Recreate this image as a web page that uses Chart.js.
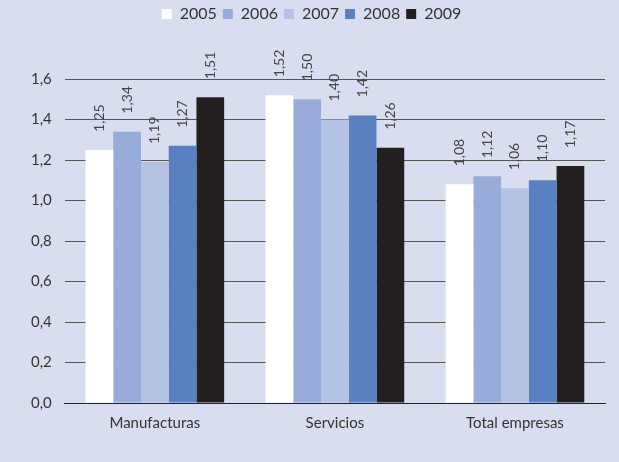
<!DOCTYPE html>
<html lang="es">
<head>
    <meta charset="UTF-8">
    <title>Indicador por sector</title>
    <script src="https://cdn.jsdelivr.net/npm/chart.js"></script>
    <style>
        html, body { margin: 0; padding: 0; background: #d9ddf0; }
        #wrap { width: 619px; height: 462px; }
    </style>
</head>
<body>
    <div id="wrap"><canvas id="barChart" width="619" height="462"></canvas></div>
    <script>
        const categories = ['Manufacturas', 'Servicios', 'Total empresas'];
        const years = ['2005', '2006', '2007', '2008', '2009'];
        const v2005 = [1.25, 1.52, 1.08];
        const v2006 = [1.34, 1.50, 1.12];
        const v2007 = [1.19, 1.40, 1.06];
        const v2008 = [1.27, 1.42, 1.10];
        const v2009 = [1.51, 1.26, 1.17];
        const yTicks = [0, 0.2, 0.4, 0.6, 0.8, 1.0, 1.2, 1.4, 1.6];

        const colors = ['#ffffff', '#98acd9', '#b4c3e4', '#5b80c2', '#231f20'];
        const series = [v2005, v2006, v2007, v2008, v2009];

        const fmt = v => v.toFixed(2).replace('.', ',');

        // value labels written vertically above each bar
        const barLabels = {
            id: 'barLabels',
            afterDatasetsDraw(chart) {
                const ctx = chart.ctx;
                ctx.save();
                ctx.font = '14px Lato';
                ctx.fillStyle = '#444';
                ctx.textAlign = 'left';
                ctx.textBaseline = 'middle';
                chart.data.datasets.forEach((ds, i) => {
                    chart.getDatasetMeta(i).data.forEach((bar, j) => {
                        ctx.save();
                        ctx.translate(bar.x, bar.y - 18);
                        ctx.rotate(-Math.PI / 2);
                        ctx.fillText(fmt(ds.data[j]), 0, 0);
                        ctx.restore();
                    });
                });
                ctx.restore();
            }
        };

        const ctx = document.getElementById('barChart').getContext('2d');
        const chart = new Chart(ctx, {
            type: 'bar',
            data: {
                labels: categories,
                datasets: years.map((y, i) => ({
                    label: y,
                    data: series[i],
                    backgroundColor: colors[i],
                    borderWidth: 0,
                    barPercentage: 1.0,
                    categoryPercentage: 0.77
                }))
            },
            options: {
                responsive: false,
                animation: false,
                layout: { padding: { top: 0, right: 14, bottom: 27, left: 18 } },
                plugins: {
                    legend: {
                        position: 'top',
                        labels: {
                            boxWidth: 10,
                            boxHeight: 10,
                            padding: 6,
                            color: '#333',
                            font: { family: 'Lato', size: 16 }
                        }
                    },
                    tooltip: { enabled: false }
                },
                scales: {
                    x: {
                        grid: { display: false },
                        border: { color: '#222', width: 1 },
                        ticks: { color: '#333', font: { family: 'Lato', size: 15 } }
                    },
                    y: {
                        min: 0,
                        max: 1.6,
                        afterBuildTicks: axis => { axis.ticks = yTicks.map(v => ({ value: v })); },
                        grid: { color: '#555', lineWidth: 1, drawTicks: false },
                        border: { display: false },
                        ticks: {
                            padding: 13,
                            color: '#333',
                            font: { family: 'Lato', size: 15 },
                            callback: v => v.toFixed(1).replace('.', ',')
                        }
                    }
                }
            },
            plugins: [barLabels, {
                id: 'legendGap',
                beforeInit(chart) {
                    const orig = chart.legend.fit;
                    chart.legend.fit = function () {
                        orig.bind(chart.legend)();
                        this.height += 47;
                    };
                }
            }]
        });
    </script>
</body>
</html>
